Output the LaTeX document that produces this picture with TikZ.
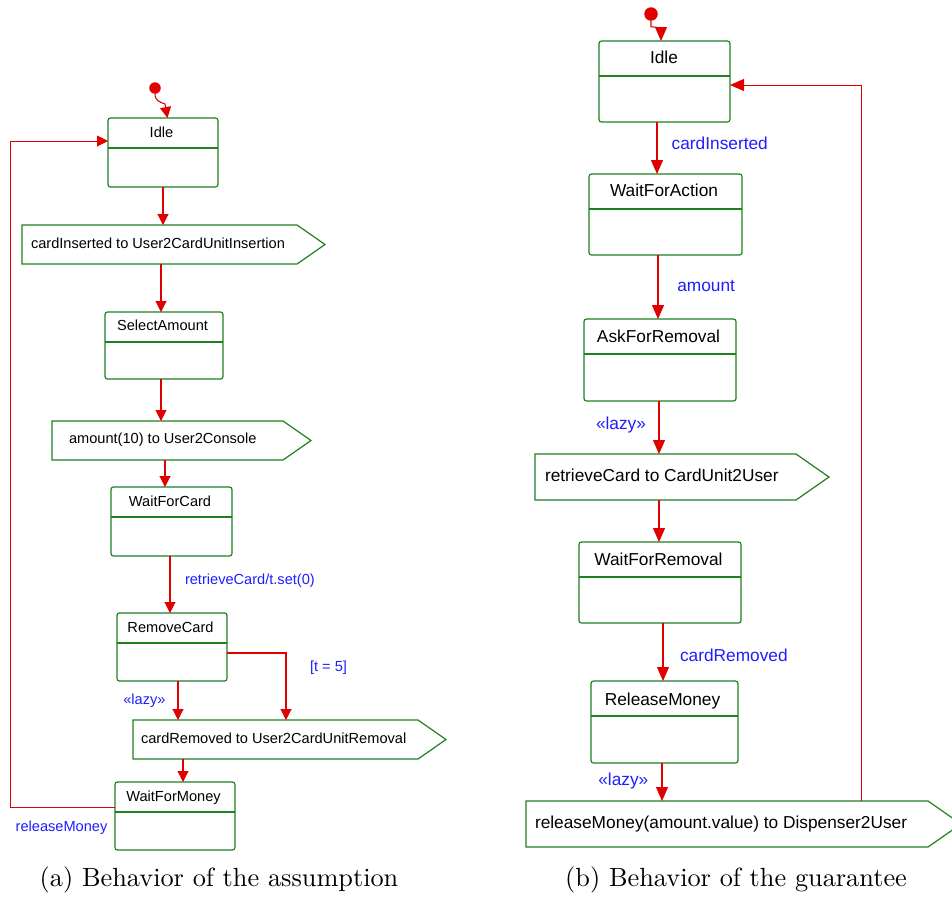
\documentclass[tikz,border=0pt]{standalone}
\usepackage{fontspec}
\newfontfamily\diagfont{Liberation Sans}
\usetikzlibrary{arrows.meta}
\definecolor{stgreen}{RGB}{30,128,30}
\definecolor{trred}{RGB}{225,0,0}
\definecolor{lblblue}{RGB}{30,30,255}

\begin{document}
\begin{tikzpicture}[x=1pt,y=-1pt,
  every node/.style={inner sep=0pt, outer sep=0pt},
  statebox/.style={draw=stgreen, line width=1.2pt, rounded corners=2.5pt, anchor=north west},
  sigbox/.style={anchor=north west},
  sigline/.style={draw=stgreen, line width=1.2pt, line join=miter},
  divider/.style={draw=stgreen, line width=1.2pt},
  initdot/.style={circle, fill=trred},
  transA/.style={draw=trred, line width=1.1pt, -{Triangle[length=11pt,width=11pt]}},
  transB/.style={draw=trred, line width=1.1pt, -{Triangle[length=14pt,width=12pt]}},
  ftA/.style={font=\diagfont\fontsize{14.6}{17}\selectfont},
  ftB/.style={font=\diagfont\fontsize{17.3}{20}\selectfont},
  lblA/.style={ftA, text=lblblue, anchor=base west},
  lblB/.style={ftB, text=lblblue, anchor=base west},
  caption/.style={scale=2.63, anchor=base}
]
\useasboundingbox (0,0) rectangle (952,898);
\clip (0,0) rectangle (952,898);

% ---------------- (a) assumption ----------------
% states
\node[statebox, minimum width=110pt, minimum height=69pt] (aIdle) at (108,118) {};
\node[statebox, minimum width=118pt, minimum height=67pt] (aSel)  at (105,312) {};
\node[statebox, minimum width=121pt, minimum height=69pt] (aWFC)  at (111,487) {};
\node[statebox, minimum width=110pt, minimum height=68pt] (aRem)  at (117,613) {};
\node[statebox, minimum width=120pt, minimum height=68pt] (aWFM)  at (115,782) {};
\foreach \s in {aIdle,aSel,aWFC,aRem,aWFM}
  \draw[divider] ([yshift=-30pt]\s.north west) -- ([yshift=-30pt]\s.north east);
\node[ftA, anchor=base] (aIdleT) at ([xshift=-1.5pt,yshift=-19pt]aIdle.north) {Idle};
\node[ftA, anchor=base] (aSelT)  at ([xshift=-1.5pt,yshift=-18pt]aSel.north) {SelectAmount};
\node[ftA, anchor=base] (aWFCT)  at ([xshift=-1.5pt,yshift=-19pt]aWFC.north) {WaitForCard};
\node[ftA, anchor=base] (aRemT)  at ([xshift=-1.5pt,yshift=-19pt]aRem.north) {RemoveCard};
\node[ftA, anchor=base] (aWFMT)  at ([xshift=-1.5pt,yshift=-19.5pt]aWFM.north) {WaitForMoney};

% send signals
\node[sigbox, minimum width=275pt, minimum height=39pt] (aS1) at (22,225) {};
\node[sigbox, minimum width=231pt, minimum height=39pt] (aS2) at (52,421) {};
\node[sigbox, minimum width=285pt, minimum height=39pt] (aS3) at (133,720) {};
\foreach \s in {aS1,aS2,aS3}
  \draw[sigline] (\s.north west) -- (\s.north east) -- ([xshift=28pt]\s.east)
                 -- (\s.south east) -- (\s.south west) -- cycle;
\node[ftA, anchor=base west] (aS1T) at ([xshift=9pt,yshift=-3.5pt]aS1.west) {cardInserted to User2CardUnitInsertion};
\node[ftA, anchor=base west] (aS2T) at ([xshift=17pt,yshift=-3pt]aS2.west) {amount(10) to User2Console};
\node[ftA, anchor=base west] (aS3T) at ([xshift=8pt,yshift=-4pt]aS3.west) {cardRemoved to User2CardUnitRemoval};

% initial state and transitions
\node[initdot, minimum size=11.5pt] (aInit) at (155,88) {};
\draw[transA] (aInit.south) .. controls (155,101) and (160,102) .. (165,104) -- ([xshift=4.5pt]aIdle.north);
\draw[transA] (aIdle.south) -- (aIdle.south |- aS1.north);
\draw[transA] ([xshift=-3pt]aSel.north |- aS1.south) -- ([xshift=-3pt]aSel.north);
\draw[transA] ([xshift=-3pt]aSel.south) -- ([xshift=-3pt]aSel.south |- aS2.north);
\draw[transA] ([xshift=-6.5pt]aWFC.north |- aS2.south) -- ([xshift=-6.5pt]aWFC.north);
\draw[transA] ([xshift=-1.5pt]aWFC.south) -- ([xshift=-1.5pt]aWFC.south |- aRem.north);
\draw[transA] ([xshift=6pt]aRem.south) -- ([xshift=6pt]aRem.south |- aS3.north);
\draw[transA] ([yshift=-40pt]aRem.north east) -| ([xshift=10.5pt]aS3.north);
\draw[transA] ([xshift=8pt]aWFM.north |- aS3.south) -- ([xshift=8pt]aWFM.north);
\draw[transA, line width=1pt] ([yshift=-25pt]aWFM.north west) -- ++(-105,0)
      |- ([yshift=-23pt]aIdle.north west);

% transition labels
\node[lblA] (aL1) at (185,584.3) {retrieveCard/t.set(0)};
\node[lblA] (aL2) at (310,671.7) {[t = 5]};
\node[lblA] (aL3) at (123.3,704) {«lazy»};
\node[lblA] (aL4) at (15.7,831.7) {releaseMoney};

\node[caption] (capA) at (219,886) {(a) Behavior of the assumption};

% ---------------- (b) guarantee ----------------
\node[statebox, minimum width=131pt, minimum height=81pt] (bIdle) at (599,41) {};
\node[statebox, minimum width=153pt, minimum height=81pt] (bWFA)  at (589,174) {};
\node[statebox, minimum width=152pt, minimum height=82pt] (bAsk)  at (584,319) {};
\node[statebox, minimum width=162pt, minimum height=81pt] (bWFR)  at (579,542) {};
\node[statebox, minimum width=147pt, minimum height=82pt] (bRel)  at (591,681) {};
\foreach \s in {bIdle,bWFA,bAsk,bWFR,bRel}
  \draw[divider] ([yshift=-35pt]\s.north west) -- ([yshift=-35pt]\s.north east);
\node[ftB, anchor=base] (bIdleT) at ([xshift=-0.5pt,yshift=-22.5pt]bIdle.north) {Idle};
\node[ftB, anchor=base] (bWFAT)  at ([xshift=-1.5pt,yshift=-22.7pt]bWFA.north) {WaitForAction};
\node[ftB, anchor=base] (bAskT)  at ([xshift=-1.5pt,yshift=-23.7pt]bAsk.north) {AskForRemoval};
\node[ftB, anchor=base] (bWFRT)  at ([xshift=-1.5pt,yshift=-23.7pt]bWFR.north) {WaitForRemoval};
\node[ftB, anchor=base] (bRelT)  at ([xshift=-2pt,yshift=-24pt]bRel.north) {ReleaseMoney};

\node[sigbox, minimum width=261pt, minimum height=46pt] (bS1) at (535,454) {};
\node[sigbox, minimum width=402pt, minimum height=46pt] (bS2) at (526,801) {};
\foreach \s in {bS1,bS2}
  \draw[sigline] (\s.north west) -- (\s.north east) -- ([xshift=33pt]\s.east)
                 -- (\s.south east) -- (\s.south west) -- cycle;
\node[ftB, anchor=base west] (bS1T) at ([xshift=10pt,yshift=-4.5pt]bS1.west) {retrieveCard to CardUnit2User};
\node[ftB, anchor=base west] (bS2T) at ([xshift=9pt,yshift=-4.3pt]bS2.west) {releaseMoney(amount.value) to Dispenser2User};

\node[initdot, minimum size=13.5pt] (bInit) at (651,14) {};
\draw[transB] (bInit.south) -- ++(0,6) -- ++(10,1) -- ([xshift=-3.5pt]bIdle.north);
\draw[transB] ([xshift=-7.5pt]bIdle.south) -- ([xshift=-7.5pt]bIdle.south |- bWFA.north);
\draw[transB] ([xshift=-7.5pt]bWFA.south) -- ([xshift=-7.5pt]bWFA.south |- bAsk.north);
\draw[transB] ([xshift=-1pt]bAsk.south) -- ([xshift=-1pt]bAsk.south |- bS1.north);
\draw[transB] ([xshift=-1pt]bWFR.north |- bS1.south) -- ([xshift=-1pt]bWFR.north);
\draw[transB] ([xshift=3pt]bWFR.south) -- ([xshift=3pt]bWFR.south |- bRel.north);
\draw[transB] ([xshift=-2.5pt]bRel.south) -- ([xshift=-2.5pt]bRel.south |- bS2.north);
\draw[transB, line width=1pt] ([xshift=134pt]bS2.north) |- ([yshift=-44pt]bIdle.north east);

\node[lblB] (bL1) at (671.7,149) {cardInserted};
\node[lblB] (bL2) at (677.3,291.7) {amount};
\node[lblB] (bL3) at (596,429) {«lazy»};
\node[lblB] (bL4) at (680,661.7) {cardRemoved};
\node[lblB] (bL5) at (598.3,785.7) {«lazy»};

\node[caption] (capB) at (736,886.5) {(b) Behavior of the guarantee};
\end{tikzpicture}
\end{document}
